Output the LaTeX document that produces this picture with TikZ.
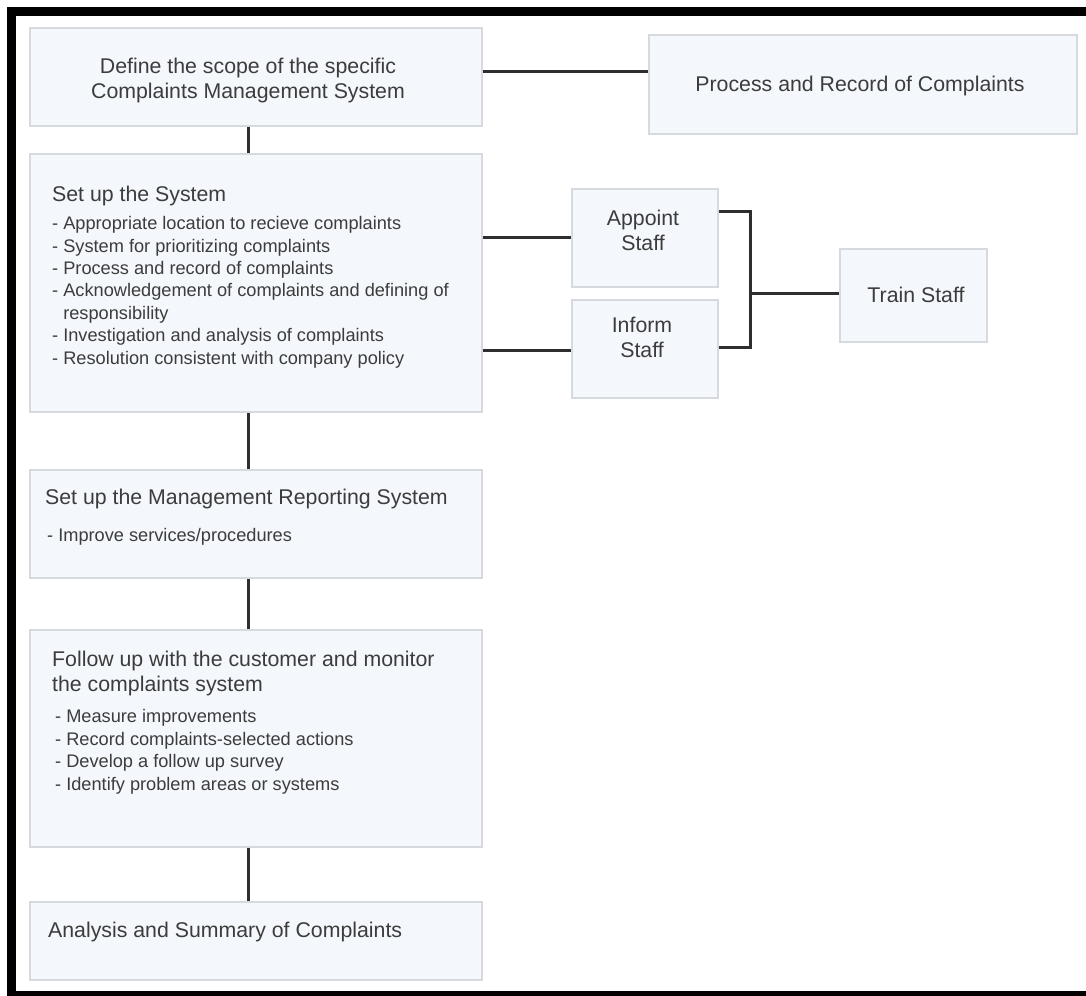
\documentclass[tikz,border=0pt]{standalone}
\usepackage{fontspec}
\setmainfont{Liberation Sans}
\definecolor{boxfill}{HTML}{F4F7FB}
\definecolor{boxdraw}{HTML}{D6DADF}
\definecolor{txt}{HTML}{3C3C3C}
\definecolor{conncol}{HTML}{2E2E2E}
\tikzset{
  box/.style={draw=boxdraw, line width=1.5bp, fill=boxfill, rectangle, inner sep=0pt},
  title/.style={text=txt, inner sep=0pt, font=\fontsize{21.3bp}{25bp}\selectfont},
  items/.style={text=txt, inner sep=0pt, align=left, font=\fontsize{18.2bp}{22.4bp}\selectfont},
  conn/.style={draw=conncol, line width=3bp, line join=miter},
  frame/.style={fill=black}
}
\begin{document}
\begin{tikzpicture}[x=1bp,y=-1bp]
\useasboundingbox (0,0) rectangle (1086,996);
\fill[white] (0,0) rectangle (1086,996);
% frame
\fill[frame] (7,7) rectangle (1086,16);
\fill[frame] (7,7) rectangle (16,996);
\fill[frame] (7,991) rectangle (1086,996);

% boxes
\node[box, minimum width=452bp, minimum height=98bp] (scope) at (256,77) {};
\node[box, minimum width=428bp, minimum height=99bp] (process) at (863,84.5) {};
\node[box, minimum width=452bp, minimum height=258bp] (setup) at (256,283) {};
\node[box, minimum width=146bp, minimum height=98bp] (appoint) at (645,238) {};
\node[box, minimum width=146bp, minimum height=98bp] (inform) at (645,349) {};
\node[box, minimum width=147bp, minimum height=93bp] (train) at (913.5,295.5) {};
\node[box, minimum width=452bp, minimum height=108bp] (mgmt) at (256,524) {};
\node[box, minimum width=452bp, minimum height=217bp] (follow) at (256,738.5) {};
\node[box, minimum width=452bp, minimum height=78bp] (analysis) at (256,941) {};

% texts (multi-line nodes: base anchor = baseline of last line)
\node[title, align=center, anchor=base] (scopeT) at (248,98) {Define the scope of the specific\\Complaints Management System};
\node[title, anchor=base] (processT) at (860,91) {Process and Record of Complaints};
\node[title, anchor=base west] (setupT) at (52,201) {Set up the System};
\node[items, anchor=base west] (setupI) at (52,364) {- Appropriate location to recieve complaints\\- System for prioritizing complaints\\- Process and record of complaints\\- Acknowledgement of complaints and defining of\\\phantom{- }responsibility\\- Investigation and analysis of complaints\\- Resolution consistent with company policy};
\node[title, align=center, anchor=base] (appointT) at (643,250) {Appoint\\Staff};
\node[title, align=center, anchor=base] (informT) at (642,357) {Inform\\Staff};
\node[title, anchor=base] (trainT) at (916,302) {Train Staff};
\node[title, anchor=base west] (mgmtT) at (45,504) {Set up the Management Reporting System};
\node[items, anchor=base west] (mgmtI) at (47,541) {- Improve services/procedures};
\node[title, align=left, anchor=base west] (followT) at (52,691) {Follow up with the customer and monitor\\the complaints system};
\node[items, anchor=base west] (followI) at (55,790) {- Measure improvements\\- Record complaints-selected actions\\- Develop a follow up survey\\- Identify problem areas or systems};
\node[title, anchor=base west] (analysisT) at (48,937) {Analysis and Summary of Complaints};

% connectors
\draw[conn] (scope.east |- 0,71) -- (process.west |- 0,71);
\draw[conn] (scope.south -| 248,0) -- (setup.north -| 248,0);
\draw[conn] (setup.east |- 0,237) -- (appoint.west |- 0,237);
\draw[conn] (setup.east |- 0,350) -- (inform.west |- 0,350);
\coordinate (jn) at (750,293);
\draw[conn] (appoint.east |- 0,211) -| (jn);
\draw[conn] (inform.east |- 0,347) -| (jn);
\draw[conn] (jn) -- (train.west |- jn);
\draw[conn] (setup.south -| 248,0) -- (mgmt.north -| 248,0);
\draw[conn] (mgmt.south -| 248,0) -- (follow.north -| 248,0);
\draw[conn] (follow.south -| 248,0) -- (analysis.north -| 248,0);
\end{tikzpicture}
\end{document}
